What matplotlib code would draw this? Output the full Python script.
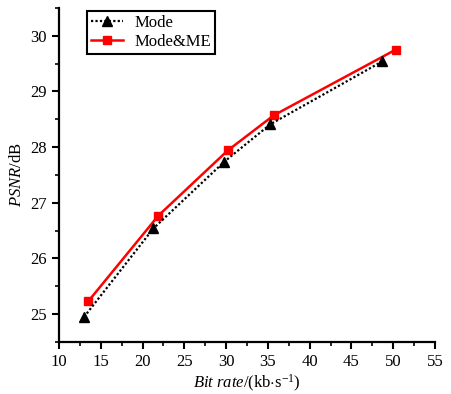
import numpy as np
import matplotlib
matplotlib.use('Agg')
import matplotlib.pyplot as plt
from matplotlib.ticker import MultipleLocator

# data
mode_rate = [13.0, 21.3, 29.8, 35.3, 48.7]
mode_psnr = [24.95, 26.54, 27.74, 28.41, 29.54]
me_rate = [13.5, 21.9, 30.2, 35.7, 50.3]
me_psnr = [25.23, 26.77, 27.94, 28.57, 29.75]

x_ticks = [10, 15, 20, 25, 30, 35, 40, 45, 50, 55]
y_ticks = [25, 26, 27, 28, 29, 30]

plt.rcParams.update({
    "font.family": "Liberation Serif",
    "mathtext.fontset": "custom",
    "mathtext.rm": "Liberation Serif",
    "mathtext.it": "Liberation Serif:italic",
    "font.size": 12,
})

fig = plt.figure(figsize=(4.51, 3.94), dpi=100)
ax = fig.add_axes([0.1308, 0.132, 0.8337, 0.848])

ax.plot(mode_rate, mode_psnr, color="black", linestyle=(0, (1, 1)), linewidth=1.6,
        marker="^", markersize=7, label="Mode", zorder=3)
ax.plot(me_rate, me_psnr, color="red", linestyle="-", linewidth=1.8,
        marker="s", markersize=5.5, label="Mode&ME", zorder=2)

ax.set_xlim(10, 55)
ax.set_ylim(24.5, 30.5)
ax.set_xticks(x_ticks)
ax.set_yticks(y_ticks)
ax.xaxis.set_minor_locator(MultipleLocator(2.5))
ax.yaxis.set_minor_locator(MultipleLocator(0.5))
ax.tick_params(which="major", direction="out", length=5, width=1.5, labelsize=12)
ax.tick_params(which="minor", direction="out", length=3, width=1.2)

ax.spines["top"].set_visible(False)
ax.spines["right"].set_visible(False)
for s in ("left", "bottom"):
    ax.spines[s].set_linewidth(1.6)

ax.set_xlabel(r"$Bit\ rate$/(kb$\cdot$s$^{-1}$)", fontsize=12, labelpad=2)
ax.set_ylabel(r"$PSNR$/dB", fontsize=12, labelpad=4)

leg = ax.legend(loc="upper left", bbox_to_anchor=(0.074, 0.991), borderaxespad=0,
                fancybox=False, edgecolor="black", framealpha=1, borderpad=0.25,
                handlelength=1.9, handletextpad=0.7, labelspacing=0.15,
                fontsize=12)
leg.get_frame().set_linewidth(1.5)

fig.savefig("out.png", dpi=100)
